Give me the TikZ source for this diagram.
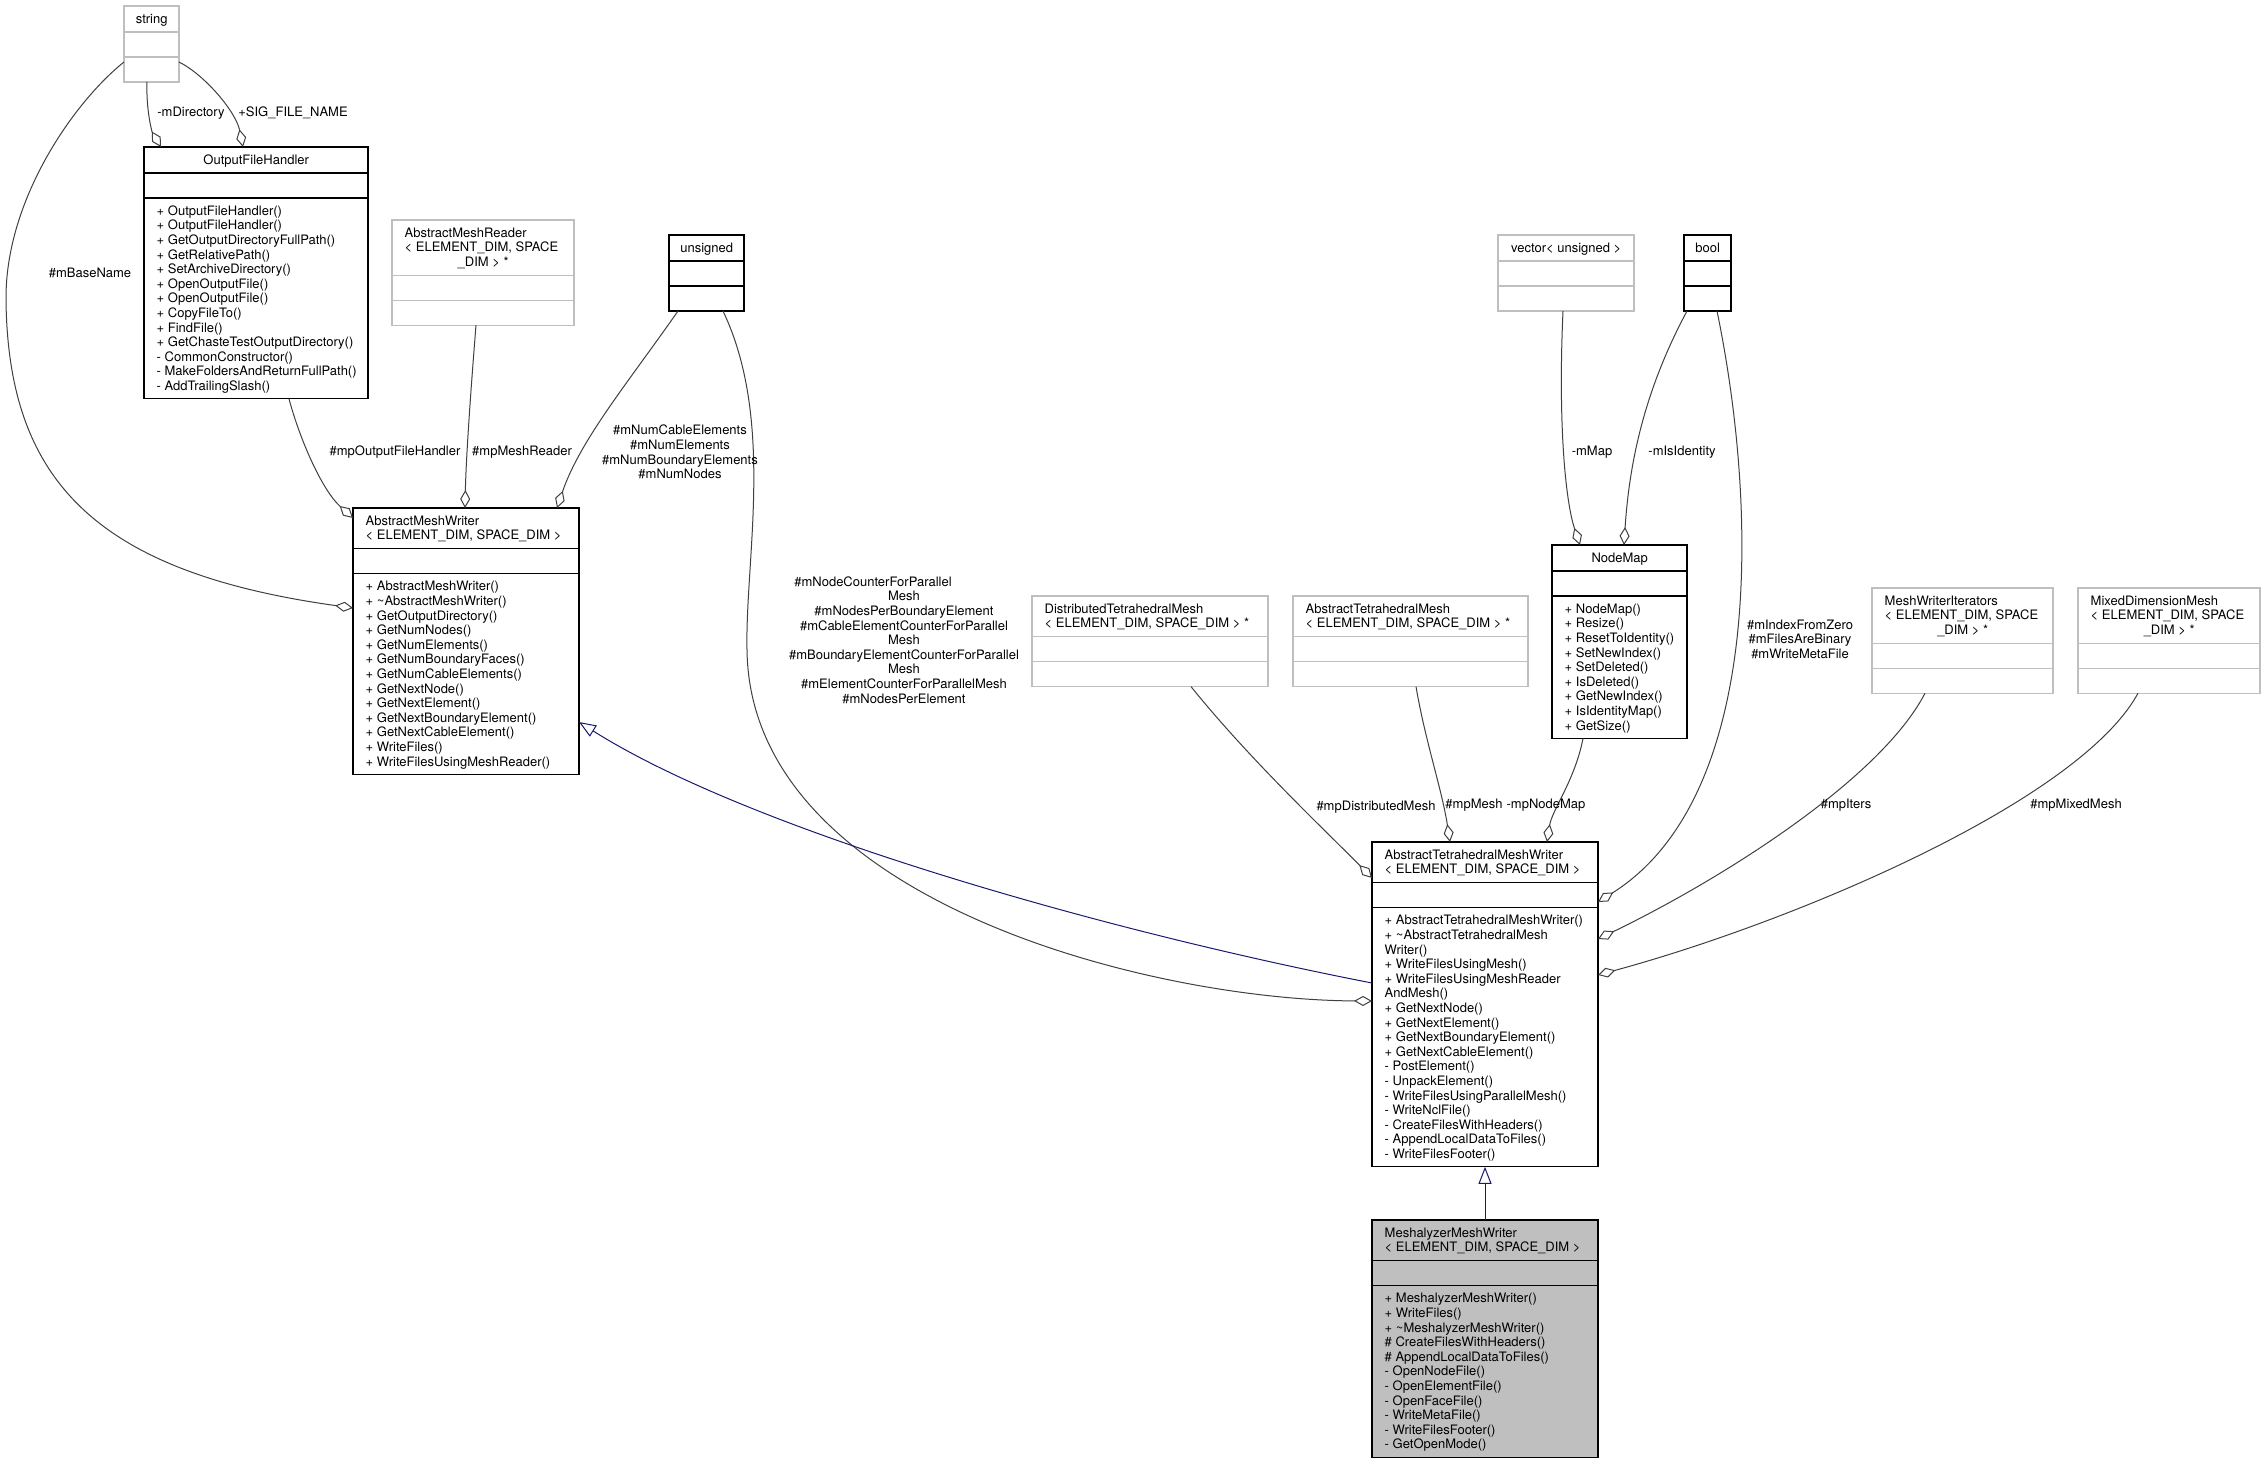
\documentclass[tikz,border=0pt]{standalone}
\usepackage{fontspec}
\setmainfont{TeX Gyre Heros}
\usetikzlibrary{arrows.meta,calc}
\definecolor{edgegray}{HTML}{404040}
\definecolor{inhblue}{HTML}{191970}
\definecolor{undoc}{HTML}{BFBFBF}
\definecolor{hlfill}{HTML}{BFBFBF}
\newlength\bxw
\newcommand\ctr[1]{\makebox[\bxw]{#1}}
\tikzset{
 clsbase/.style={draw, line width=1.1pt, inner sep=0pt, outer sep=0pt},
 docbox/.style={clsbase, draw=black},
 undocbox/.style={clsbase, draw=undoc},
 hlbox/.style={clsbase, draw=black, fill=hlfill},
 txt/.style={anchor=north west, align=left, inner sep=0pt, font=\fontsize{13}{14.6}\selectfont},
 lbl/.style={align=center, inner sep=0pt, font=\fontsize{13}{14.6}\selectfont},
 agg/.style={draw=edgegray, line width=1pt, -{Diamond[open, length=18pt, width=10pt]}},
 inh/.style={draw=inhblue, line width=1pt, -{Triangle[open, length=17pt, width=13pt]}},
}
% #1 name, #2 style, #3 x, #4 y, #5 width, #6 title height, #7 title, #8 bottom height, #9 methods
\newcommand\umlclass[9]{%
 \setlength\bxw{\dimexpr #5pt-25pt\relax}%
 \node[#2, anchor=north west, minimum width=#5pt, minimum height={#6pt+25pt+#8pt}] (#1) at (#3,#4) {};
 \draw[#2, fill=none] ($(#1.north west)+(0,#6)$) -- ++(#5,0);
 \draw[#2, fill=none] ($(#1.north west)+(0,#6+25)$) -- ++(#5,0);
 \node[txt] at ($(#1.north west)+(12.5,6.78)$) {\strut #7};
 \node[txt] at ($(#1.north west)+(12.5,#6+31.78)$) {\strut #9};
}
\begin{document}
\begin{tikzpicture}[x=1pt, y=-1pt]
\fill[white] (0,0) rectangle (2266,1464);
\useasboundingbox (0,0) rectangle (2266,1464);

\umlclass{string}{undocbox}{124}{6}{55}{26}{\ctr{string}}{25}{}
\umlclass{ofh}{docbox}{144}{147}{224}{26}{\ctr{OutputFileHandler}}{200.8}{+ OutputFileHandler()\\+ OutputFileHandler()\\+ GetOutputDirectoryFullPath()\\+ GetRelativePath()\\+ SetArchiveDirectory()\\+ OpenOutputFile()\\+ OpenOutputFile()\\+ CopyFileTo()\\+ FindFile()\\+ GetChasteTestOutputDirectory()\\- CommonConstructor()\\- MakeFoldersAndReturnFullPath()\\- AddTrailingSlash()}
\umlclass{amr}{undocbox}{392}{220}{182}{55.2}{AbstractMeshReader\\< ELEMENT\_DIM, SPACE\\\ctr{\_DIM > *}}{25}{}
\umlclass{uns}{docbox}{669}{235}{75}{26}{\ctr{unsigned}}{25}{}
\umlclass{amw}{docbox}{353}{508}{226}{40.6}{AbstractMeshWriter\\< ELEMENT\_DIM, SPACE\_DIM >}{200.8}{+ AbstractMeshWriter()\\+ \textasciitilde AbstractMeshWriter()\\+ GetOutputDirectory()\\+ GetNumNodes()\\+ GetNumElements()\\+ GetNumBoundaryFaces()\\+ GetNumCableElements()\\+ GetNextNode()\\+ GetNextElement()\\+ GetNextBoundaryElement()\\+ GetNextCableElement()\\+ WriteFiles()\\+ WriteFilesUsingMeshReader()}
\umlclass{vec}{undocbox}{1498}{235}{136}{26}{\ctr{vector< unsigned >}}{25}{}
\umlclass{bool}{docbox}{1684}{235}{47}{26}{\ctr{bool}}{25}{}
\umlclass{nm}{docbox}{1552}{545}{135}{26}{\ctr{NodeMap}}{142.4}{+ NodeMap()\\+ Resize()\\+ ResetToIdentity()\\+ SetNewIndex()\\+ SetDeleted()\\+ IsDeleted()\\+ GetNewIndex()\\+ IsIdentityMap()\\+ GetSize()}
\umlclass{dist}{undocbox}{1032}{596}{236}{40.6}{DistributedTetrahedralMesh\\< ELEMENT\_DIM, SPACE\_DIM > *}{25}{}
\umlclass{atm}{undocbox}{1293}{596}{235}{40.6}{AbstractTetrahedralMesh\\< ELEMENT\_DIM, SPACE\_DIM > *}{25}{}
\umlclass{mwi}{undocbox}{1872}{588}{181}{55.2}{MeshWriterIterators\\< ELEMENT\_DIM, SPACE\\\ctr{\_DIM > *}}{25}{}
\umlclass{mdm}{undocbox}{2078}{588}{182}{55.2}{MixedDimensionMesh\\< ELEMENT\_DIM, SPACE\\\ctr{\_DIM > *}}{25}{}
\umlclass{atmw}{docbox}{1372}{842}{226}{40.6}{AbstractTetrahedralMeshWriter\\< ELEMENT\_DIM, SPACE\_DIM >}{259.2}{+ AbstractTetrahedralMeshWriter()\\+ \textasciitilde AbstractTetrahedralMesh\\Writer()\\+ WriteFilesUsingMesh()\\+ WriteFilesUsingMeshReader\\AndMesh()\\+ GetNextNode()\\+ GetNextElement()\\+ GetNextBoundaryElement()\\+ GetNextCableElement()\\- PostElement()\\- UnpackElement()\\- WriteFilesUsingParallelMesh()\\- WriteNclFile()\\- CreateFilesWithHeaders()\\- AppendLocalDataToFiles()\\- WriteFilesFooter()}
\umlclass{mmw}{hlbox}{1372}{1220}{226}{40.6}{MeshalyzerMeshWriter\\< ELEMENT\_DIM, SPACE\_DIM >}{171.6}{+ MeshalyzerMeshWriter()\\+ WriteFiles()\\+ \textasciitilde MeshalyzerMeshWriter()\\\# CreateFilesWithHeaders()\\\# AppendLocalDataToFiles()\\- OpenNodeFile()\\- OpenElementFile()\\- OpenFaceFile()\\- WriteMetaFile()\\- WriteFilesFooter()\\- GetOpenMode()}

% connectors
\draw[agg] ($(string.south west)+(23,0)$) .. controls (146,110) and (152,132) .. ($(ofh.north west)+(17,0)$);
\draw[agg] ($(string.north east)+(0,56)$) .. controls (205,75) and (236,112) .. ($(ofh.north west)+(99,0)$);
\draw[agg] ($(string.north west)+(0,56)$) .. controls (74,102) and (5,200) .. (6,300) .. controls (8,480) and (95,572) .. ($(amw.north west)+(0,100)$);
\draw[agg] ($(ofh.south west)+(145,0)$) .. controls (300,440) and (322,490) .. ($(amw.north west)+(0,10)$);
\draw[agg] ($(amr.south west)+(84,0)$) .. controls (470,400) and (466,460) .. ($(amw.north west)+(112,0)$);
\draw[agg] ($(uns.south west)+(9,0)$) .. controls (630,380) and (580,440) .. ($(amw.north west)+(204,0)$);
\draw[agg] ($(uns.south west)+(54,0)$) .. controls (775,420) and (745,560) .. (747,650) .. controls (750,900) and (1150,1000) .. ($(atmw.north west)+(0,159)$);
\draw[inh] ($(atmw.north west)+(0,141)$) .. controls (1100,930) and (750,830) .. ($(amw.north east)+(0,214)$);
\draw[agg] ($(dist.south west)+(159,0)$) .. controls (1250,760) and (1330,835) .. ($(atmw.north west)+(0,36)$);
\draw[agg] ($(atm.south west)+(123,0)$) .. controls (1425,740) and (1442,790) .. ($(atmw.north west)+(78,0)$);
\draw[agg] ($(nm.south west)+(31,0)$) .. controls (1575,780) and (1552,810) .. ($(atmw.north west)+(175,0)$);
\draw[agg] ($(vec.south west)+(65,0)$) .. controls (1558,420) and (1565,500) .. ($(nm.north west)+(28,0)$);
\draw[agg] ($(bool.south west)+(3,0)$) .. controls (1650,380) and (1630,450) .. ($(nm.north west)+(72,0)$);
\draw[agg] ($(bool.south west)+(33,0)$) .. controls (1760,520) and (1760,800) .. ($(atmw.north east)+(0,60)$);
\draw[agg] ($(mwi.south west)+(53,0)$) .. controls (1880,780) and (1720,880) .. ($(atmw.north east)+(0,97)$);
\draw[agg] ($(mdm.south west)+(60,0)$) .. controls (2080,800) and (1800,920) .. ($(atmw.north east)+(0,133)$);
\draw[inh] ($(mmw.north west)+(113,0)$) -- ($(atmw.south west)+(113,0)$);

% labels
\node[lbl] (lmdir) at (191,113) {-mDirectory};
\node[lbl] (lsig) at (293,113) {+SIG\_FILE\_NAME};
\node[lbl] (lbase) at (90,273) {\#mBaseName};
\node[lbl] (lpofh) at (395,452) {\#mpOutputFileHandler};
\node[lbl] (lpmr) at (522,452) {\#mpMeshReader};
\node[lbl] (lnum) at (680,452) {\#mNumCableElements\\\#mNumElements\\\#mNumBoundaryElements\\\#mNumNodes};
\node[lbl] (lcnt) at (904,640) {\#mNodeCounterForParallel\hspace*{62pt}\\Mesh\\\#mNodesPerBoundaryElement\\\#mCableElementCounterForParallel\\Mesh\\\#mBoundaryElementCounterForParallel\\Mesh\\\#mElementCounterForParallelMesh\\\#mNodesPerElement};
\node[lbl] (lpdm) at (1376,807) {\#mpDistributedMesh};
\node[lbl] (lpm) at (1474,805) {\#mpMesh};
\node[lbl] (lpnm) at (1546,805) {-mpNodeMap};
\node[lbl] (lmap) at (1592,452) {-mMap};
\node[lbl] (lisid) at (1682,452) {-mIsIdentity};
\node[lbl] (lbool) at (1800,639) {\#mIndexFromZero\\\#mFilesAreBinary\\\#mWriteMetaFile};
\node[lbl] (liters) at (1846,805) {\#mpIters};
\node[lbl] (lmixed) at (2076,805) {\#mpMixedMesh};
\end{tikzpicture}
\end{document}
